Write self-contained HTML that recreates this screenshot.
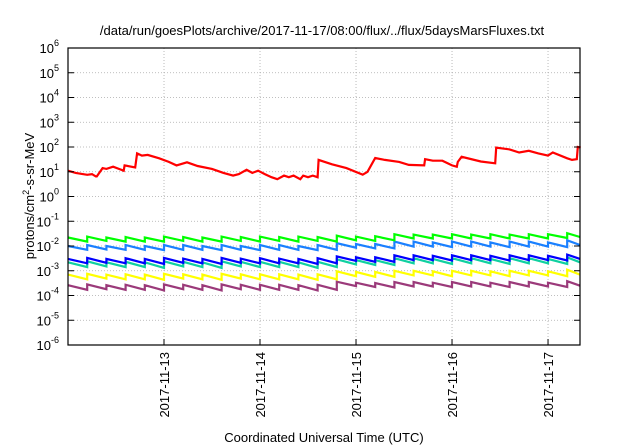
<!DOCTYPE html>
<html><head><meta charset="utf-8"><style>
body{margin:0;background:#fff;}
svg{display:block;font-family:"Liberation Sans",sans-serif;}
</style></head><body>
<svg id="chart" width="640" height="448" viewBox="0 0 640 448" xmlns="http://www.w3.org/2000/svg">
<text x="322" y="35" font-size="13" text-anchor="middle">/data/run/goesPlots/archive/2017-11-17/08:00/flux/../flux/5daysMarsFluxes.txt</text>
<text x="324" y="442" font-size="13" text-anchor="middle">Coordinated Universal Time (UTC)</text>
<text transform="translate(34,196) rotate(-90)" font-size="13" text-anchor="middle">protons/cm<tspan font-size="9" dy="-5">2</tspan><tspan dy="5">-s-sr-MeV</tspan></text>
<g id="grid"></g><g id="series"></g><g id="axes"></g>
</svg>
<script>
const dayTicks=[13,14,15,16,17];
const dayLabels=["2017-11-13","2017-11-14","2017-11-15","2017-11-16","2017-11-17"];
const expTicks=[-6,-5,-4,-3,-2,-1,0,1,2,3,4,5,6];
const redTimes=[12.0,12.08,12.2,12.25,12.29,12.30,12.36,12.40,12.47,12.53,12.58,12.59,12.70,12.72,12.77,12.83,12.95,13.05,13.13,13.24,13.35,13.5,13.62,13.72,13.78,13.86,13.92,13.98,14.05,14.12,14.18,14.25,14.3,14.35,14.42,14.45,14.5,14.55,14.6,14.61,14.75,14.9,15.07,15.12,15.2,15.3,15.45,15.55,15.71,15.72,15.8,15.9,16.0,16.05,16.06,16.1,16.3,16.45,16.46,16.6,16.7,16.8,16.9,17.0,17.05,17.2,17.25,17.3,17.31,17.34];
const redValues=[11,9,7.5,8,6.5,6.5,14,13,16,13,11,18,15,55,45,48,35,25,18,24,17,13,9,7,8,12,9,11,8,6,5,7,6,7,5,7,6,7,6,30,20,14,7.6,10,36,30,25,19,18,32,28,28,18,16,25,40,26,22,95,80,60,70,55,45,60,35,30,32,100,95];
const toothStart=12.0, toothPeriod=0.2;
const greenPeaks=[0.022,0.024,0.022,0.023,0.022,0.024,0.023,0.022,0.024,0.023,0.024,0.023,0.024,0.023,0.026,0.024,0.025,0.03,0.029,0.029,0.03,0.029,0.03,0.029,0.03,0.03,0.033];
const greenTroughs=[0.015,0.016,0.015,0.015,0.015,0.016,0.015,0.015,0.016,0.015,0.016,0.015,0.016,0.015,0.017,0.016,0.017,0.02,0.02,0.02,0.02,0.02,0.02,0.02,0.02,0.021,0.023];
const lblueP=[0.01,0.011,0.01,0.011,0.01,0.011,0.011,0.01,0.011,0.01,0.011,0.011,0.01,0.011,0.013,0.012,0.012,0.015,0.015,0.014,0.015,0.015,0.014,0.015,0.015,0.014,0.017];
const lblueT=[0.007,0.0072,0.007,0.007,0.0068,0.007,0.007,0.0068,0.007,0.0068,0.007,0.007,0.0068,0.007,0.0085,0.008,0.008,0.0095,0.0095,0.009,0.0095,0.0095,0.009,0.0095,0.0095,0.009,0.011];
const blueP=[0.003,0.0033,0.003,0.0032,0.003,0.0033,0.0031,0.003,0.0033,0.0031,0.0032,0.0031,0.003,0.0032,0.0038,0.0035,0.0035,0.0042,0.0042,0.004,0.0042,0.0042,0.004,0.0042,0.0042,0.004,0.0045];
const blueT=[0.002,0.0021,0.002,0.002,0.0019,0.0021,0.002,0.0019,0.0021,0.002,0.002,0.002,0.0019,0.002,0.0025,0.0023,0.0023,0.0027,0.0027,0.0026,0.0027,0.0027,0.0026,0.0027,0.0027,0.0026,0.003];
const tealP=[0.0022,0.0024,0.0022,0.0023,0.0022,0.0024,0.0023,0.0022,0.0024,0.0023,0.0023,0.0023,0.0022,0.0023,0.0029,0.0027,0.0027,0.0032,0.0032,0.003,0.0032,0.0032,0.003,0.0032,0.0032,0.003,0.0035];
const tealT=[0.0014,0.0015,0.0014,0.0014,0.0013,0.0015,0.0014,0.0013,0.0015,0.0014,0.0014,0.0014,0.0013,0.0014,0.0018,0.0017,0.0017,0.002,0.002,0.0019,0.002,0.002,0.0019,0.002,0.002,0.0019,0.0022];
const yellowP=[0.0007,0.00075,0.0007,0.00072,0.0007,0.00075,0.00072,0.0007,0.00075,0.00072,0.00072,0.00072,0.0007,0.00072,0.00095,0.0009,0.0009,0.001,0.001,0.00095,0.001,0.001,0.00095,0.001,0.001,0.00095,0.0011];
const yellowT=[0.00045,0.00048,0.00045,0.00045,0.00043,0.00048,0.00045,0.00043,0.00048,0.00045,0.00045,0.00045,0.00043,0.00045,0.0006,0.00057,0.00057,0.00065,0.00065,0.0006,0.00065,0.00065,0.0006,0.00065,0.00065,0.0006,0.0007];
const purpleP=[0.00026,0.00028,0.00026,0.00027,0.00026,0.00028,0.00027,0.00026,0.00028,0.00027,0.00027,0.00027,0.00026,0.00027,0.00036,0.00033,0.00032,0.00035,0.00035,0.00033,0.00035,0.00035,0.00033,0.00035,0.00035,0.00033,0.00038];
const purpleT=[0.00017,0.00018,0.00017,0.00017,0.00016,0.00018,0.00017,0.00016,0.00018,0.00017,0.00017,0.00017,0.00016,0.00017,0.00024,0.00022,0.00021,0.00023,0.00023,0.00022,0.00023,0.00023,0.00022,0.00023,0.00023,0.00022,0.00025];

const L=68,R=580,T=48,B=345,X0=12.0,X1=17.333;
const NS="http://www.w3.org/2000/svg";
function sx(d){return L+(d-X0)/(X1-X0)*(R-L);}
function sy(v){return B-(Math.log10(v)+6)/12*(B-T);}
function mk(tag,attrs,parent){const e=document.createElementNS(NS,tag);for(const k in attrs)e.setAttribute(k,attrs[k]);parent.appendChild(e);return e;}
const grid=document.getElementById('grid'),axes=document.getElementById('axes'),ser=document.getElementById('series');
expTicks.forEach(p=>{
  const y=sy(Math.pow(10,p));
  if(p>-6&&p<6){const g=mk('line',{x1:L,x2:R,y1:y,y2:y,stroke:'#aaa','stroke-width':0.8,'stroke-dasharray':'1,2'},grid);
  
  }
  const t=mk('line',{x1:L,x2:L+6,y1:y,y2:y,stroke:'#000'},axes);
  
  
  const t2=mk('line',{x1:R-6,x2:R,y1:y,y2:y,stroke:'#000'},axes);
  
  
  const tx=mk('text',{x:59,y:y+5,'font-size':13,'text-anchor':'end'},axes);
  
  
  tx.innerHTML='10<tspan font-size="9" dy="-7">'+p+'</tspan>';
  tx.setAttribute('transform','translate('+(p<0?-8:0)+',0)');
});
// fix label alignment: end anchor applies to whole text incl. exponent
axes.querySelectorAll('text').forEach(t=>t.setAttribute('transform',''));
dayTicks.forEach((d,i)=>{
  const x=sx(d);
  const g=mk('line',{x1:x,x2:x,y1:T,y2:B,stroke:'#aaa','stroke-width':0.8,'stroke-dasharray':'1,2'},grid);
  
  
  const t=mk('line',{x1:x,x2:x,y1:B-6,y2:B,stroke:'#000'},axes);
  
  
  const tx=mk('text',{transform:'translate('+(x+5)+',352) rotate(-90)','font-size':13,'text-anchor':'end'},axes);
  
  
  tx.textContent=dayLabels[i];
});
const box=mk('rect',{x:L,y:T,width:R-L,height:B-T,fill:'none',stroke:'#000','stroke-width':1.2},axes);


function saw(peaks,troughs){
  const pts=[];
  for(let k=0;k<peaks.length;k++){
    const t0=Math.min(toothStart+k*toothPeriod,X1),t1=Math.min(toothStart+(k+1)*toothPeriod,X1);
    pts.push([sx(t0),sy(peaks[k])]);
    pts.push([sx(t1),sy(troughs[k])]);
  }
  return pts;
}
function draw(pts,color,name){
  const p=mk('polyline',{points:pts.map(q=>q[0].toFixed(1)+','+q[1].toFixed(1)).join(' '),fill:'none',stroke:color,'stroke-width':2.2,'stroke-linejoin':'miter'},ser);
  
  
}
draw(saw(purpleP,purpleT),'#9b3a7a','series-purple');
draw(saw(yellowP,yellowT),'#ffff00','series-yellow');
draw(saw(tealP,tealT),'#10d0a0','series-teal');
draw(saw(blueP,blueT),'#0000ff','series-blue');
draw(saw(lblueP,lblueT),'#1a80ff','series-light-blue');
draw(saw(greenPeaks,greenTroughs),'#00ff00','series-green');
draw(redTimes.map((t,i)=>[sx(t),sy(redValues[i])]),'#ff0000','series-red');
</script>
</body></html>
